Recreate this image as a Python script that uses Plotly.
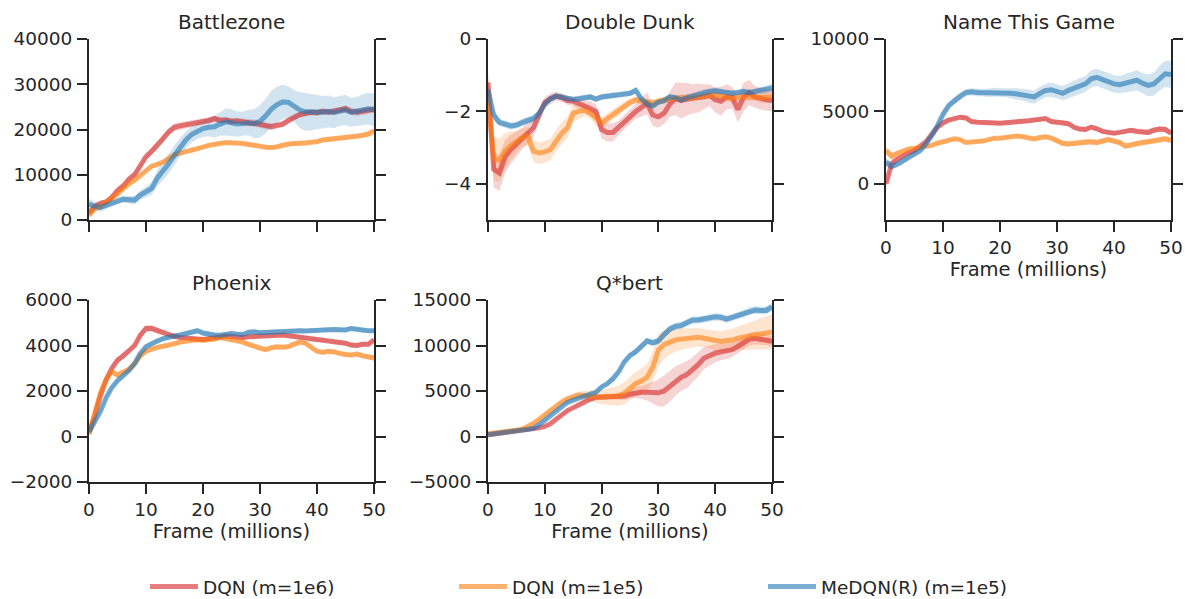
import plotly.graph_objects as go

FRAMES = list(range(0, 51))
X_TICKS = [0, 10, 20, 30, 40, 50]
GAMES = ["Battlezone", "Double Dunk", "Name This Game", "Phoenix", "Q*bert"]
SERIES = ["DQN (m=1e6)", "DQN (m=1e5)", "MeDQN(R) (m=1e5)"]

# ---------------- Battlezone ----------------
BZ_DQN_1E6 = [1500, 3000, 3700, 4000, 5000, 6500, 7500, 9000, 10000, 12000, 14000, 15200, 16500, 18000, 19500, 20500,
              20800, 21000, 21200, 21500, 21800, 22000, 22400, 22000, 22100, 21800, 21900, 21600, 21500, 21400, 21200,
              20800, 20600, 20900, 21200, 22000, 22800, 23300, 23600, 23800, 23700, 24000, 23800, 24100, 24200, 24600,
              24000, 23800, 24000, 24200, 24500]
BZ_DQN_1E6_SD = [400, 500, 600, 600, 700, 700, 800, 800, 700, 700, 700, 700, 800, 800, 800, 900, 900, 800, 800, 700,
                 700, 700, 700, 700, 700, 700, 700, 800, 800, 800, 800, 800, 700, 700, 700, 700, 700, 700, 700, 700,
                 700, 700, 700, 700, 700, 800, 800, 800, 800, 800, 800]
BZ_DQN_1E5 = [1000, 2500, 3000, 3800, 4800, 5800, 7000, 8000, 8800, 9800, 11000, 11900, 12300, 12800, 13600, 14400,
              14800, 15100, 15300, 15700, 16100, 16500, 16800, 16900, 17100, 17100, 17000, 16900, 16700, 16600, 16300,
              16100, 16000, 16200, 16600, 16800, 16900, 16900, 17000, 17200, 17300, 17700, 17800, 17900, 18200, 18300,
              18400, 18500, 18700, 19000, 19700]
BZ_DQN_1E5_SD = [500, 600, 600, 500, 500, 500, 500, 500, 450, 450, 450, 450, 450, 450, 450, 450, 450, 450, 450, 450,
                 450, 450, 450, 450, 450, 450, 450, 450, 450, 450, 450, 450, 450, 450, 450, 450, 450, 450, 450, 450,
                 450, 450, 500, 500, 500, 500, 500, 500, 600, 600, 600]
BZ_MEDQN = [3500, 3000, 2800, 3300, 3800, 4300, 4600, 4500, 4400, 5500, 6200, 7000, 9300, 10800, 12500, 14300, 16200,
            17700, 18900, 19700, 20200, 20500, 20600, 21200, 21700, 21500, 21200, 21300, 21500, 21300, 21800, 23000,
            24500, 25500, 26100, 26000, 25200, 24300, 23900, 23800, 23900, 23800, 24000, 23700, 24100, 24300, 23800,
            24000, 24400, 24600, 24300]
BZ_MEDQN_SD = [1200, 1000, 900, 800, 800, 800, 800, 800, 900, 1000, 1200, 1400, 1800, 2000, 2200, 2200, 2000, 1800,
               1800, 1800, 1800, 2000, 2400, 2600, 3000, 3000, 2800, 2600, 2800, 3200, 3600, 3800, 4000, 4000, 3800,
               3500, 3500, 4000, 4200, 4000, 3800, 3600, 3500, 3400, 3300, 3300, 3200, 3200, 3400, 3500, 3600]

# ---------------- Double Dunk ----------------
DD_DQN_1E6 = [-1.2, -3.6, -3.7, -3.25, -3.05, -2.9, -2.75, -2.6, -2.45, -2.1, -1.75, -1.65, -1.58, -1.62, -1.7, -1.72,
              -1.8, -1.85, -1.92, -2.0, -2.5, -2.58, -2.58, -2.45, -2.3, -2.15, -2.0, -1.9, -1.78, -2.1, -2.15, -2.05,
              -1.8, -1.65, -1.7, -1.66, -1.65, -1.63, -1.6, -1.55, -1.68, -1.72, -1.6, -1.62, -1.95, -1.6, -1.48,
              -1.6, -1.65, -1.68, -1.7]
DD_DQN_1E6_SD = [0.3, 0.5, 0.5, 0.45, 0.4, 0.35, 0.3, 0.3, 0.25, 0.2, 0.15, 0.15, 0.12, 0.12, 0.12, 0.12, 0.15, 0.15,
                 0.2, 0.2, 0.25, 0.25, 0.25, 0.2, 0.2, 0.2, 0.2, 0.25, 0.3, 0.3, 0.3, 0.3, 0.35, 0.45, 0.5, 0.45, 0.4,
                 0.4, 0.35, 0.3, 0.35, 0.4, 0.35, 0.3, 0.35, 0.4, 0.35, 0.3, 0.3, 0.3, 0.3]
DD_DQN_1E5 = [-1.6, -3.3, -3.35, -3.1, -2.95, -2.85, -2.72, -2.68, -3.1, -3.15, -3.12, -3.05, -2.8, -2.6, -2.45, -2.05,
              -2.0, -1.97, -2.05, -2.2, -2.32, -2.2, -2.08, -1.98, -1.85, -1.75, -1.68, -1.7, -1.75, -1.77, -1.72,
              -1.68, -1.66, -1.65, -1.62, -1.63, -1.6, -1.6, -1.58, -1.56, -1.55, -1.58, -1.62, -1.64, -1.6, -1.6,
              -1.58, -1.6, -1.62, -1.6, -1.6]
DD_DQN_1E5_SD = [0.5, 0.6, 0.6, 0.5, 0.4, 0.3, 0.25, 0.25, 0.3, 0.3, 0.3, 0.3, 0.3, 0.3, 0.3, 0.25, 0.2, 0.15, 0.15,
                 0.2, 0.15, 0.15, 0.15, 0.15, 0.12, 0.1, 0.1, 0.1, 0.1, 0.1, 0.1, 0.1, 0.1, 0.1, 0.1, 0.1, 0.1, 0.1,
                 0.1, 0.1, 0.1, 0.1, 0.1, 0.12, 0.12, 0.12, 0.12, 0.12, 0.15, 0.15, 0.15]
DD_MEDQN = [-1.4, -2.1, -2.3, -2.35, -2.4, -2.38, -2.3, -2.25, -2.2, -2.05, -1.8, -1.65, -1.58, -1.6, -1.65, -1.67,
            -1.65, -1.62, -1.6, -1.66, -1.6, -1.58, -1.55, -1.55, -1.52, -1.5, -1.42, -1.65, -1.8, -1.85, -1.75, -1.7,
            -1.6, -1.62, -1.68, -1.62, -1.58, -1.52, -1.47, -1.45, -1.43, -1.45, -1.5, -1.5, -1.48, -1.45, -1.48,
            -1.45, -1.43, -1.4, -1.35]
DD_MEDQN_SD = [0.2, 0.15, 0.1, 0.1, 0.1, 0.1, 0.1, 0.1, 0.1, 0.08, 0.08, 0.08, 0.08, 0.08, 0.08, 0.08, 0.08, 0.08,
               0.08, 0.08, 0.08, 0.08, 0.08, 0.08, 0.08, 0.08, 0.08, 0.08, 0.08, 0.08, 0.08, 0.08, 0.08, 0.08, 0.08,
               0.08, 0.08, 0.08, 0.08, 0.08, 0.08, 0.08, 0.08, 0.08, 0.08, 0.08, 0.08, 0.08, 0.1, 0.1, 0.12]

# ---------------- Name This Game ----------------
NTG_DQN_1E6 = [0, 1400, 1700, 1950, 2150, 2300, 2550, 2900, 3400, 3900, 4200, 4400, 4500, 4600, 4550, 4300, 4250,
               4220, 4250, 4200, 4180, 4220, 4280, 4300, 4320, 4350, 4380, 4450, 4500, 4300, 4250, 4250, 4150, 3900,
               3780, 3750, 3920, 3800, 3620, 3550, 3500, 3550, 3650, 3700, 3620, 3600, 3550, 3700, 3780, 3750, 3500]
NTG_DQN_1E6_SD = [300, 250, 200, 150, 150, 150, 150, 150, 150, 150, 150, 150, 150, 150, 150, 150, 150, 150, 150,
                  150, 150, 150, 150, 150, 150, 150, 150, 150, 150, 150, 150, 150, 150, 150, 150, 150, 150, 150, 150,
                  150, 150, 150, 150, 150, 200, 200, 200, 200, 200, 200, 200]
NTG_DQN_1E5 = [2300, 1900, 2100, 2250, 2400, 2450, 2500, 2550, 2650, 2800, 2920, 3000, 3100, 3050, 2850, 2880, 2900,
               2950, 3050, 3150, 3150, 3200, 3250, 3300, 3250, 3200, 3100, 3200, 3250, 3150, 3000, 2800, 2750, 2800,
               2850, 2920, 2900, 2850, 2950, 3050, 2950, 2850, 2600, 2700, 2800, 2850, 2900, 2950, 3050, 3100, 3000]
NTG_DQN_1E5_SD = [300, 250, 150, 120, 120, 120, 120, 120, 120, 120, 120, 120, 120, 120, 120, 120, 120, 120, 120,
                  120, 120, 120, 120, 120, 120, 120, 120, 150, 150, 150, 180, 180, 180, 200, 200, 200, 200, 200, 200,
                  200, 200, 200, 200, 200, 200, 200, 200, 200, 200, 200, 200]
NTG_MEDQN = [1500, 1200, 1350, 1600, 1900, 2100, 2300, 2750, 3300, 4000, 4800, 5400, 5750, 6050, 6300, 6350, 6300,
             6300, 6280, 6330, 6300, 6280, 6250, 6200, 6150, 6050, 6000, 6250, 6450, 6500, 6400, 6250, 6450, 6600,
             6750, 6900, 7250, 7350, 7200, 7050, 6900, 6850, 6950, 7050, 7150, 6950, 6800, 6900, 7300, 7600, 7550]
NTG_MEDQN_SD = [300, 250, 200, 200, 200, 200, 200, 200, 200, 200, 250, 250, 250, 250, 250, 250, 250, 250, 300, 300,
                300, 300, 350, 400, 400, 450, 450, 450, 450, 500, 500, 500, 500, 550, 550, 550, 600, 600, 600, 600,
                600, 600, 650, 650, 700, 700, 750, 800, 850, 900, 950]

# ---------------- Phoenix ----------------
PH_DQN_1E6 = [200, 900, 1800, 2500, 3000, 3350, 3550, 3750, 4000, 4450, 4750, 4750, 4650, 4550, 4450, 4400, 4350,
              4320, 4300, 4280, 4260, 4300, 4320, 4380, 4420, 4380, 4340, 4350, 4380, 4400, 4420, 4420, 4430, 4450,
              4460, 4430, 4400, 4380, 4340, 4280, 4250, 4240, 4220, 4160, 4120, 4100, 4020, 4000, 4050, 4050, 4250]
PH_DQN_1E6_SD = [80, 100, 120, 120, 120, 120, 120, 120, 120, 140, 150, 150, 140, 120, 100, 100, 100, 100, 100, 100,
                 100, 100, 100, 100, 100, 100, 100, 100, 100, 100, 100, 100, 100, 100, 100, 100, 100, 100, 100, 100,
                 100, 100, 100, 100, 100, 100, 100, 100, 100, 100, 100]
PH_DQN_1E5 = [100, 1100, 1900, 2500, 2850, 2700, 2850, 2950, 3200, 3550, 3750, 3850, 3920, 3970, 4000, 4080, 4150,
              4200, 4250, 4250, 4230, 4250, 4280, 4350, 4300, 4250, 4230, 4150, 4050, 3970, 3850, 3820, 3900, 3940,
              3920, 3950, 4060, 4150, 4100, 3900, 3750, 3700, 3750, 3720, 3650, 3600, 3580, 3620, 3550, 3500, 3450]
PH_DQN_1E5_SD = [80, 100, 120, 120, 120, 120, 120, 120, 120, 120, 100, 100, 100, 100, 100, 100, 100, 100, 100, 100,
                 100, 100, 100, 100, 100, 100, 100, 100, 100, 100, 100, 100, 100, 100, 100, 100, 100, 100, 100, 100,
                 100, 100, 100, 100, 100, 100, 100, 100, 100, 120, 120]
PH_MEDQN = [200, 600, 1100, 1700, 2150, 2450, 2650, 2900, 3200, 3650, 3950, 4100, 4200, 4300, 4380, 4420, 4460, 4520,
            4580, 4650, 4550, 4480, 4460, 4450, 4480, 4530, 4500, 4480, 4580, 4600, 4560, 4580, 4600, 4620, 4600,
            4620, 4640, 4650, 4640, 4660, 4680, 4690, 4700, 4700, 4690, 4680, 4750, 4700, 4670, 4650, 4650]
PH_MEDQN_SD = [80, 100, 100, 100, 100, 100, 100, 100, 100, 100, 100, 100, 100, 100, 100, 100, 100, 100, 100, 100,
               100, 100, 100, 100, 100, 100, 100, 100, 100, 100, 100, 100, 100, 100, 100, 100, 100, 100, 100, 100,
               100, 100, 100, 100, 100, 100, 100, 100, 100, 100, 100]

# ---------------- Q*bert ----------------
QB_DQN_1E6 = [200, 280, 360, 440, 520, 600, 660, 700, 750, 950, 1100, 1400, 1900, 2400, 2850, 3150, 3500, 3900, 4100,
              4300, 4350, 4350, 4350, 4400, 4450, 4650, 4800, 4850, 4850, 4800, 4800, 5000, 5500, 6100, 6500, 6800,
              7300, 7900, 8600, 8900, 9150, 9300, 9400, 9550, 9900, 10250, 10700, 10800, 10700, 10650, 10450]
QB_DQN_1E6_SD = [100, 100, 100, 100, 100, 100, 100, 100, 100, 100, 100, 120, 150, 150, 150, 150, 150, 200, 200, 250,
                 300, 300, 300, 350, 400, 500, 600, 700, 900, 1200, 1500, 1700, 1700, 1600, 1500, 1500, 1400, 1300,
                 1200, 1100, 1000, 900, 900, 800, 800, 700, 700, 700, 600, 600, 600]
QB_DQN_1E5 = [300, 350, 400, 470, 560, 680, 800, 1050, 1430, 1900, 2400, 2900, 3350, 3800, 4150, 4400, 4550, 4500,
              4400, 4380, 4350, 4380, 4400, 4480, 4750, 5300, 5800, 6100, 6500, 7600, 9500, 10100, 10400, 10600,
              10700, 10800, 10850, 10900, 10800, 10700, 10500, 10450, 10550, 10600, 10800, 10900, 11000, 11150, 11300,
              11400, 11500]
QB_DQN_1E5_SD = [150, 150, 150, 150, 150, 150, 150, 150, 200, 200, 200, 200, 200, 250, 300, 350, 400, 500, 600, 700,
                 800, 900, 1000, 1100, 1200, 1250, 1300, 1400, 1500, 1700, 1800, 1600, 1400, 1300, 1200, 1100, 1100,
                 1000, 1000, 1000, 1100, 1100, 1200, 1200, 1300, 1400, 1500, 1600, 1700, 1800, 1900]
QB_MEDQN = [200, 260, 330, 420, 530, 630, 700, 780, 880, 1300, 1800, 2350, 2900, 3400, 3750, 4000, 4250, 4480, 4650,
            4850, 5450, 5800, 6350, 7100, 8200, 8900, 9300, 9900, 10500, 10300, 10500, 11200, 11800, 12100, 12200,
            12500, 12800, 12800, 12900, 13000, 13150, 13100, 12900, 13100, 13300, 13500, 13800, 13900, 13850, 13850,
            14250]
QB_MEDQN_SD = [150, 150, 150, 150, 150, 150, 150, 150, 150, 150, 200, 200, 200, 200, 200, 200, 200, 200, 200, 250,
               250, 250, 300, 300, 300, 300, 350, 350, 350, 350, 400, 400, 400, 400, 400, 400, 400, 400, 400, 400,
               400, 400, 400, 400, 400, 400, 400, 400, 400, 450, 450]

Y_RANGES = [[0, 40000], [-5, 0], [-2500, 10000], [-2000, 6000], [-5000, 15000]]
Y_TICKS = [[0, 10000, 20000, 30000, 40000], [-4, -2, 0], [0, 5000, 10000],
           [-2000, 0, 2000, 4000, 6000], [-5000, 0, 5000, 10000, 15000]]

DATA = {
    "Battlezone": [(BZ_DQN_1E6, BZ_DQN_1E6_SD), (BZ_DQN_1E5, BZ_DQN_1E5_SD), (BZ_MEDQN, BZ_MEDQN_SD)],
    "Double Dunk": [(DD_DQN_1E6, DD_DQN_1E6_SD), (DD_DQN_1E5, DD_DQN_1E5_SD), (DD_MEDQN, DD_MEDQN_SD)],
    "Name This Game": [(NTG_DQN_1E6, NTG_DQN_1E6_SD), (NTG_DQN_1E5, NTG_DQN_1E5_SD), (NTG_MEDQN, NTG_MEDQN_SD)],
    "Phoenix": [(PH_DQN_1E6, PH_DQN_1E6_SD), (PH_DQN_1E5, PH_DQN_1E5_SD), (PH_MEDQN, PH_MEDQN_SD)],
    "Q*bert": [(QB_DQN_1E6, QB_DQN_1E6_SD), (QB_DQN_1E5, QB_DQN_1E5_SD), (QB_MEDQN, QB_MEDQN_SD)],
}

LINE_COLORS = ["rgba(214,39,40,0.6)", "rgba(255,127,14,0.6)", "rgba(31,119,180,0.6)"]
BAND_COLORS = ["rgba(214,39,40,0.2)", "rgba(255,127,14,0.2)", "rgba(31,119,180,0.2)"]

W, H = 1185, 599
X_DOMAINS = [[89 / W, 374 / W], [488 / W, 772 / W], [886 / W, 1171 / W]]
Y_DOMAINS = [[1 - 220 / H, 1 - 39 / H], [1 - 482 / H, 1 - 300 / H]]
POS = [(0, 0), (0, 1), (0, 2), (1, 0), (1, 1)]
SHOW_XLABELS = [False, False, True, True, True]

FONT = "DejaVu Sans"
TXT = "#262626"

fig = go.Figure()
annotations = []
for gi, game in enumerate(GAMES):
    r, c = POS[gi]
    n = gi + 1
    xa = "x" if n == 1 else f"x{n}"
    ya = "y" if n == 1 else f"y{n}"
    for si, (mean, sd) in enumerate(DATA[game]):
        upper = [m + s for m, s in zip(mean, sd)]
        lower = [m - s for m, s in zip(mean, sd)]
        fig.add_trace(go.Scatter(
            x=FRAMES + FRAMES[::-1], y=upper + lower[::-1], fill="toself",
            fillcolor=BAND_COLORS[si], line=dict(width=0), mode="lines",
            hoverinfo="skip", showlegend=False, xaxis=xa, yaxis=ya))
    for si, (mean, sd) in enumerate(DATA[game]):
        fig.add_trace(go.Scatter(
            x=FRAMES, y=mean, mode="lines", name=SERIES[si],
            line=dict(color=LINE_COLORS[si], width=5),
            showlegend=(gi == 0), legendrank=si + 1, xaxis=xa, yaxis=ya))

    axis_common = dict(showline=True, linecolor=TXT, linewidth=2, ticks="outside", ticklen=10,
                       tickwidth=2, tickcolor=TXT, showgrid=False, zeroline=False,
                       tickfont=dict(family=FONT, size=18.5, color=TXT))
    fig.layout[("xaxis" if n == 1 else f"xaxis{n}")] = dict(
        domain=X_DOMAINS[c], anchor=ya, range=[0, 50], tickvals=X_TICKS,
        showticklabels=SHOW_XLABELS[gi], mirror=False,
        title=dict(text="Frame (millions)" if SHOW_XLABELS[gi] else "",
                   font=dict(family=FONT, size=19.5, color=TXT), standoff=4),
        **axis_common)
    fig.layout[("yaxis" if n == 1 else f"yaxis{n}")] = dict(
        domain=Y_DOMAINS[r], anchor=xa, range=Y_RANGES[gi], tickvals=Y_TICKS[gi],
        mirror="ticks", ticklabelstandoff=1, separatethousands=False, tickformat="d",
        **axis_common)
    xd = X_DOMAINS[c]
    annotations.append(dict(text=game, x=(xd[0] + xd[1]) / 2, xref="paper", xanchor="center",
                            y=Y_DOMAINS[r][1] + 17 / H, yref="paper", yanchor="middle", showarrow=False,
                            font=dict(family=FONT, size=20, color=TXT)))

fig.update_layout(
    width=W, height=H, margin=dict(l=0, r=0, t=0, b=0, autoexpand=False),
    plot_bgcolor="white", paper_bgcolor="white",
    annotations=annotations,
    showlegend=True,
    legend=dict(orientation="h", x=145 / W, xanchor="left", y=1 - 587 / H, yanchor="middle",
                font=dict(family=FONT, size=18.5, color=TXT), entrywidth=246, entrywidthmode="pixels",
                itemwidth=48, bgcolor="rgba(0,0,0,0)", traceorder="normal"),
)

fig.write_html("out.html")
